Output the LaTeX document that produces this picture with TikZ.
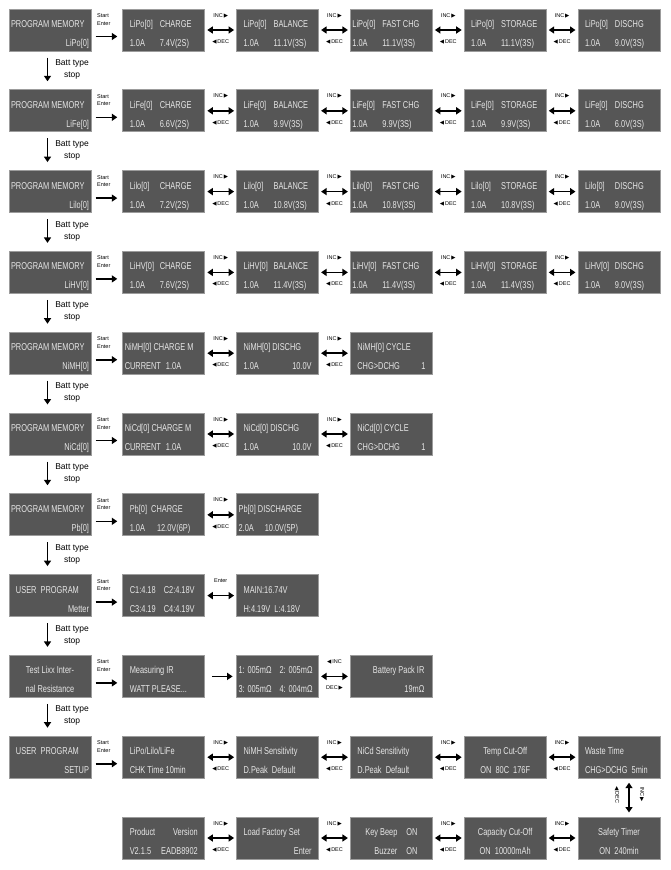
\documentclass[tikz,border=0pt]{standalone}
\usepackage{fontspec}
\setmainfont{Liberation Sans}[FakeStretch=0.74]
\newfontfamily\tagfont{Liberation Sans}
\newfontfamily\symfont{DejaVu Sans}
\usetikzlibrary{
	positioning,
	arrows.meta
}
\definecolor{lcdfill}{HTML}{565656}
\definecolor{lcdedge}{HTML}{9C9C9C}
\definecolor{lcdtext}{HTML}{E6E6E6}
\newcommand{\lcdtab}[2][30pt]{\makebox[#1][l]{#2}}
\newcommand{\rtri}{{\symfont\char"25B6}}
\newcommand{\ltri}{{\symfont\char"25C0}}
\tikzset{
	lcd/.style={
		draw=lcdedge,
		fill=lcdfill,
		line width=1pt,
		minimum width=82pt,
		minimum height=42pt,
		inner sep=0pt,
		text width=68pt,
		align=flush left,
		text=lcdtext,
		font={\fontsize{10}{19}\selectfont},
		execute at begin node={\rule{0pt}{17pt}},
		execute at end node={\rule[-3pt]{0pt}{3pt}}
	},
	lcd wide/.style={text width=78pt},
	>={Triangle[length=5.5pt,width=7pt]},
	fwd/.style={->, line width=1.6pt},
	dbl/.style={<->, line width=1.6pt, shorten <=2pt, shorten >=2pt},
	tag/.style={font={\tagfont\fontsize{5.5}{7.5}\selectfont}, inner sep=0pt, align=left},
	inc tag/.style={tag, midway, yshift=14.5pt},
	dec tag/.style={tag, midway, yshift=-12pt},
	batt/.style={font={\tagfont\fontsize{8.5}{12}\selectfont}, inner sep=0pt, align=center}
}
\begin{document}
\begin{tikzpicture}[x=1pt, y=-1pt, node distance=37.8pt and 30.8pt]
	\useasboundingbox (0,0) rectangle (671,870);
	% program memory column
	\node[lcd, lcd wide, anchor=north west] (LiPo-1) at (8.5,8.5) {PROGRAM MEMORY\\\mbox{}\hfill LiPo[0]};
	\foreach \chem/\prev in {LiFe/LiPo, Lilo/LiFe, LiHV/Lilo, NiMH/LiHV, NiCd/NiMH, Pb/NiCd}
		\node[lcd, lcd wide, below=of \prev-1] (\chem-1) {PROGRAM MEMORY\\\mbox{}\hfill \chem[0]};
	\node[lcd, lcd wide, below=of Pb-1] (meter-1) {\hspace*{5pt}USER\ \ PROGRAM\\\mbox{}\hfill Metter};
	\node[lcd, lcd wide, below=of meter-1, align=flush center] (ir-1) {Test Lixx Inter-\\nal Resistance};
	\node[lcd, lcd wide, below=of ir-1] (setup-1) {\hspace*{5pt}USER\ \ PROGRAM\\\mbox{}\hfill SETUP};

	% lithium rows
	\foreach \chem/\cv/\bv/\dv in {LiPo/7.4/11.1/9.0, LiFe/6.6/9.9/6.0, Lilo/7.2/10.8/9.0, LiHV/7.6/11.4/9.0} {
		\node[lcd, right=of \chem-1] (\chem-2) {\lcdtab{\chem[0]}CHARGE\\\lcdtab{1.0A}\cv V(2S)};
		\node[lcd, right=of \chem-2] (\chem-3) {\lcdtab{\chem[0]}BALANCE\\\lcdtab{1.0A}\bv V(3S)};
		\node[lcd, lcd wide, right=of \chem-3] (\chem-4) {\lcdtab{\chem[0]}FAST CHG\\\lcdtab{1.0A}\bv V(3S)};
		\node[lcd, right=of \chem-4] (\chem-5) {\lcdtab{\chem[0]}STORAGE\\\lcdtab{1.0A}\bv V(3S)};
		\node[lcd, right=of \chem-5] (\chem-6) {\lcdtab{\chem[0]}DISCHG\\\lcdtab{1.0A}\dv V(3S)};
		\foreach \c/\d in {2/3, 3/4, 4/5, 5/6}
			\draw[dbl] (\chem-\c) -- (\chem-\d) node[inc tag]{INC\,\rtri} node[dec tag]{\ltri\,DEC};
	}

	% nickel rows
	\foreach \chem in {NiMH, NiCd} {
		\node[lcd, lcd wide, right=of \chem-1] (\chem-2) {\chem[0] CHARGE M\\CURRENT\hspace{5pt}1.0A};
		\node[lcd, right=of \chem-2] (\chem-3) {\chem[0] DISCHG\\1.0A\hfill 10.0V};
		\node[lcd, right=of \chem-3] (\chem-4) {\chem[0] CYCLE\\CHG>DCHG\hfill 1};
	}

	% lead
	\node[lcd, right=of Pb-1] (Pb-2) {Pb[0]\ \ CHARGE\\1.0A\hspace{12pt}12.0V(6P)};
	\node[lcd, lcd wide, right=of Pb-2] (Pb-3) {Pb[0] DISCHARGE\\2.0A\hspace{11pt}10.0V(5P)};

	% meter
	\node[lcd, right=of meter-1] (meter-2) {\lcdtab[34pt]{C1:4.18}C2:4.18V\\\lcdtab[34pt]{C3:4.19}C4:4.19V};
	\node[lcd, right=of meter-2] (meter-3) {MAIN:16.74V\\H:4.19V\ \ L:4.18V};
	\draw[dbl] (meter-2) -- (meter-3) node[inc tag]{Enter};

	% internal resistance
	\node[lcd, right=of ir-1] (ir-2) {Measuring IR\\WATT PLEASE...};
	\node[lcd, lcd wide, right=of ir-2] (ir-3) {\lcdtab[41pt]{1: 005mΩ}2: 005mΩ\\\lcdtab[41pt]{3: 005mΩ}4: 004mΩ};
	\node[lcd, right=of ir-3, align=flush right, text width=66pt] (ir-4) {Battery Pack IR\\19mΩ};
	\draw[fwd, shorten <=6.5pt, shorten >=3.5pt] (ir-2) -- (ir-3);
	\draw[dbl] (ir-3) -- (ir-4) node[inc tag]{\ltri\,INC} node[dec tag]{DEC\,\rtri};

	% setup
	\node[lcd, right=of setup-1] (setup-2) {LiPo/Lilo/LiFe\\CHK Time 10min};
	\node[lcd, right=of setup-2] (setup-3) {NiMH Sensitivity\\D.Peak\ \ Default};
	\node[lcd, right=of setup-3] (setup-4) {NiCd Sensitivity\\D.Peak\ \ Default};
	\node[lcd, right=of setup-4, align=flush center] (setup-5) {Temp Cut-Off\\ON\ \ 80C\ \ 176F};
	\node[lcd, right=of setup-5] (setup-6) {Waste Time\\CHG>DCHG\ \ 5min};
	\node[lcd, below=of setup-2] (info-2) {Product\hfill Version\\V2.1.5\hfill EADB8902};
	\node[lcd, right=of info-2] (info-3) {Load Factory Set\\\mbox{}\hfill Enter};
	\node[lcd, right=of info-3] (info-4) {\makebox[40pt][r]{Key Beep}\hspace{9pt}ON\\\makebox[40pt][r]{Buzzer}\hspace{9pt}ON};
	\node[lcd, right=of info-4, align=flush center] (info-5) {Capacity Cut-Off\\ON\ \ 10000mAh};
	\node[lcd, right=of info-5, align=flush center] (info-6) {Safety Timer\\ON\ \ 240min};

	\foreach \a/\b in {NiMH-2/NiMH-3, NiMH-3/NiMH-4, NiCd-2/NiCd-3, NiCd-3/NiCd-4, Pb-2/Pb-3,
		setup-2/setup-3, setup-3/setup-4, setup-4/setup-5, setup-5/setup-6,
		info-2/info-3, info-3/info-4, info-4/info-5, info-5/info-6}
		\draw[dbl] (\a) -- (\b) node[inc tag]{INC\,\rtri} node[dec tag]{\ltri\,DEC};
	\draw[dbl, shorten <=4pt, shorten >=4pt] ([xshift=10pt]setup-6.south) -- ([xshift=10pt]info-6.north)
		node[midway, xshift=-12pt, yshift=3pt, rotate=-90, tag]{\ltri\,DEC}
		node[midway, xshift=13pt, yshift=3pt, rotate=-90, tag]{INC\,\rtri};

	% start / enter and batt type
	\foreach \r in {LiPo, LiFe, Lilo, LiHV, NiMH, NiCd, Pb, meter, ir, setup} {
		\draw[fwd] ([xshift=4pt, yshift=-6.5pt]\r-1.east) -- ([xshift=-5pt, yshift=-6.5pt]\r-2.west);
		\node[tag, anchor=north west] (\r-start) at ([xshift=5.5pt, yshift=-5pt]\r-1.north east) {Start\\Enter};
	}
	\foreach \r/\s in {LiPo/LiFe, LiFe/Lilo, Lilo/LiHV, LiHV/NiMH, NiMH/NiCd, NiCd/Pb, Pb/meter, meter/ir, ir/setup}
		\draw[fwd] ([xshift=-2.5pt, yshift=-6pt]\r-1.south) -- ([xshift=-2.5pt, yshift=8pt]\s-1.north)
			node[midway, right=7pt, batt]{Batt type\\stop};
\end{tikzpicture}
\end{document}
